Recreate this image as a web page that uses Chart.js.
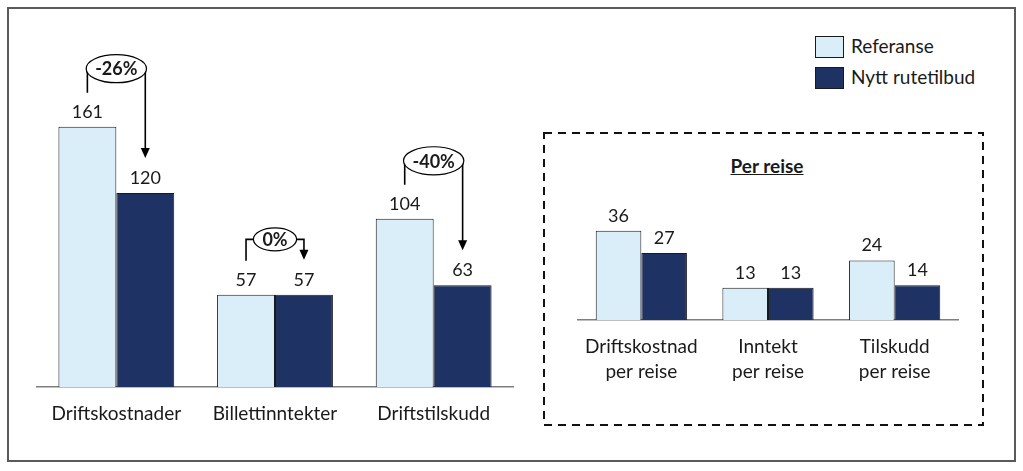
<!DOCTYPE html>
<html>
<head>
<meta charset="utf-8">
<script src="https://cdn.jsdelivr.net/npm/chart.js@4/dist/chart.umd.min.js"></script>
<style>
    body { margin: 0; background: #fff; }
    #wrap { position: relative; width: 1023px; height: 471px; overflow: hidden; font-family: Lato, sans-serif; color: #1a1a1a; }
    #frame { position: absolute; left: 7px; top: 7px; width: 1005px; height: 451px; border: 2px solid #5a5a5a; }
    canvas { position: absolute; }
    #main { left: 0; top: 0; }
    #inset { left: 560px; top: 140px; }
    #dash { position: absolute; left: 0; top: 0; }
    .legend { position: absolute; left: 815px; font-size: 19px; }
    .legend span { position: absolute; width: 29px; height: 22px; border: 1px solid #1a1a1a; box-sizing: border-box; }
    .legend b { position: absolute; left: 36px; font-weight: normal; white-space: nowrap; line-height: 22px; top: -1px; }
    #title { position: absolute; left: 667px; width: 200px; top: 154px; text-align: center; font-weight: bold; font-size: 19px; text-decoration: underline; }
</style>
</head>
<body>
<div id="wrap">
    <div id="frame"></div>
    <svg id="dash" width="1023" height="471">
        <rect x="544" y="133" width="439" height="292" fill="none" stroke="#111" stroke-width="2" stroke-dasharray="8 6"></rect>
    </svg>
    <div class="legend" style="top:36px"><span style="background:#daeef9"></span><b>Referanse</b></div>
    <div class="legend" style="top:67px"><span style="background:#1f3264"></span><b>Nytt rutetilbud</b></div>
    <div id="title">Per reise</div>
    <canvas id="main" width="530" height="471"></canvas>
    <canvas id="inset" width="420" height="280"></canvas>
</div>
<script>
const seriesNames = ["Referanse", "Nytt rutetilbud"];

const mainCategories = ["Driftskostnader", "Billettinntekter", "Driftstilskudd"];
const mainReferanse = [161, 57, 104];
const mainNytt = [120, 57, 63];
const mainChanges = ["-26%", "0%", "-40%"];

const insetCategories = [["Driftskostnad", "per reise"], ["Inntekt", "per reise"], ["Tilskudd", "per reise"]];
const insetReferanse = [36, 13, 24];
const insetNytt = [27, 13, 14];

const lightBlue = "#daeef9";
const navy = "#1f3264";
const ink = "#1a1a1a";

Chart.defaults.font.family = "Lato, sans-serif";
Chart.defaults.color = ink;

// value above every bar
const valueLabels = {
    id: "valueLabels",
    afterDatasetsDraw(chart) {
        const ctx = chart.ctx;
        ctx.save();
        ctx.font = "18px Lato, sans-serif";
        ctx.fillStyle = ink;
        ctx.textAlign = "center";
        ctx.textBaseline = "alphabetic";
        chart.data.datasets.forEach((ds, i) => {
            chart.getDatasetMeta(i).data.forEach((bar, j) => {
                ctx.fillText(ds.data[j], bar.x, bar.y - 9);
            });
        });
        ctx.restore();
    },
};

// bracket + ellipse with percent change between the two bars
const changeMarkers = {
    id: "changeMarkers",
    afterDatasetsDraw(chart, args, opts) {
        if (!opts.labels) return;
        const ctx = chart.ctx;
        const a = chart.getDatasetMeta(0).data;
        const b = chart.getDatasetMeta(1).data;
        ctx.save();
        ctx.font = "bold 18px Lato, sans-serif";
        opts.labels.forEach((txt, j) => {
            const l = a[j], r = b[j];
            const w = ctx.measureText(txt).width;
            const rx = w / 2 + 9;
            const ry = 5 + rx * 0.3;
            const cx = (l.x + r.x) / 2;
            const cy = Math.min(l.y, r.y) - 44 - ry;
            const lb = l.y - 34;
            const tip = r.y - 35;

            ctx.strokeStyle = "#000";
            ctx.lineWidth = 1.6;
            ctx.beginPath();
            ctx.moveTo(l.x, lb);
            ctx.lineTo(l.x, cy);
            ctx.lineTo(r.x, cy);
            ctx.lineTo(r.x, tip - 9);
            ctx.stroke();

            ctx.fillStyle = "#000";
            ctx.beginPath();
            ctx.moveTo(r.x, tip);
            ctx.lineTo(r.x - 4.5, tip - 10);
            ctx.lineTo(r.x + 4.5, tip - 10);
            ctx.closePath();
            ctx.fill();

            ctx.beginPath();
            ctx.ellipse(cx, cy, rx, ry, 0, 0, Math.PI * 2);
            ctx.fillStyle = "#fff";
            ctx.fill();
            ctx.lineWidth = 1.2;
            ctx.stroke();

            ctx.fillStyle = ink;
            ctx.textAlign = "center";
            ctx.textBaseline = "middle";
            ctx.fillText(txt, cx, cy + 1);
        });
        ctx.restore();
    },
};

function makeChart(el, labels, ref, nytt, opt) {
    return new Chart(el, {
        type: "bar",
        data: {
            labels,
            datasets: [
                { label: seriesNames[0], data: ref, backgroundColor: lightBlue },
                { label: seriesNames[1], data: nytt, backgroundColor: navy },
            ],
        },
        options: {
            responsive: false,
            animation: false,
            layout: { padding: opt.padding },
            datasets: {
                bar: {
                    borderColor: ink,
                    borderWidth: 1,
                    barPercentage: 1,
                    categoryPercentage: opt.catPct,
                },
            },
            scales: {
                x: {
                    grid: { display: false, drawTicks: false },
                    border: { display: true, color: "#7f7f7f", width: 1.6 },
                    ticks: {
                        padding: opt.tickPad,
                        font: { size: 19, lineHeight: opt.lineHeight },
                        color: ink,
                        maxRotation: 0,
                        autoSkip: false,
                    },
                    afterFit: (s) => { s.height = opt.axisHeight; },
                },
                y: { display: false, min: 0, max: opt.yMax },
            },
            plugins: {
                legend: { display: false },
                tooltip: { enabled: false },
                changeMarkers: { labels: opt.changes },
            },
        },
        plugins: [valueLabels, changeMarkers],
    });
}

makeChart(document.getElementById("main"), mainCategories, mainReferanse, mainNytt, {
    padding: { top: 20, left: 37, right: 17, bottom: 0 },
    catPct: 0.73,
    tickPad: 15.5,
    lineHeight: 1.2,
    axisHeight: 84,
    yMax: 227,
    changes: mainChanges,
});

makeChart(document.getElementById("inset"), insetCategories, insetReferanse, insetNytt, {
    padding: { top: 40, left: 18, right: 22, bottom: 0 },
    catPct: 0.72,
    tickPad: 14.5,
    lineHeight: 25 / 19,
    axisHeight: 100,
    yMax: 56.4,
    changes: null,
});
</script>
</body>
</html>
